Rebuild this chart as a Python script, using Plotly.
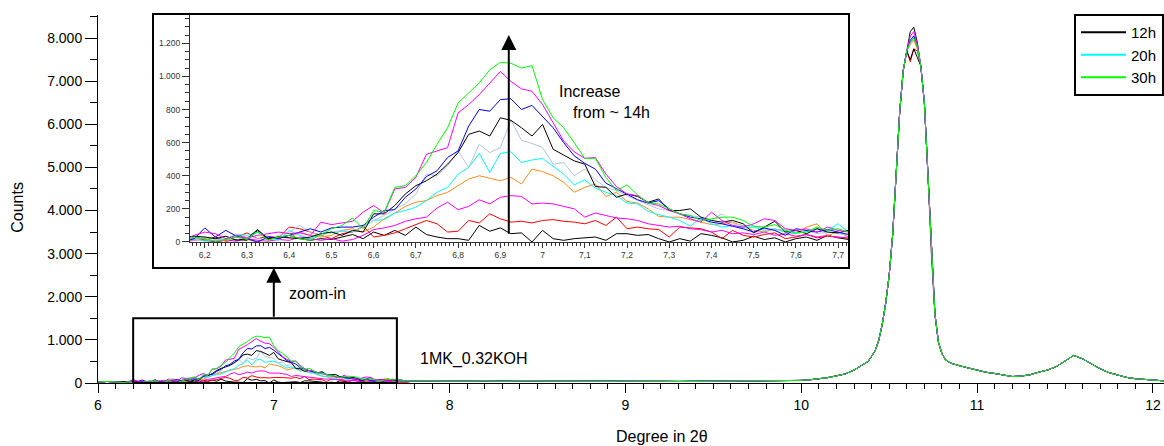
import numpy as np
import plotly.graph_objects as go

# ---- samples (reaction time) and line colours ----
hours = ["12h", "14h", "16h", "18h", "20h", "22h", "24h", "26h", "28h", "30h"]
colors = ["#000000", "#ff0000", "#ff00ff", "#ff8c1a", "#00ffff",
          "#b0c4de", "#000000", "#0000ff", "#ff00ff", "#00ff00"]
legend_shown = ["12h", "20h", "30h"]

# ---- 2θ positions ----
two_theta_head = [6.0, 6.05, 6.1]
# low-angle reflection scanned with a 0.025° step (6.15 ... 7.75)
two_theta_zoom = np.round(np.arange(6.15, 7.7501, 0.025), 3)
two_theta_tail_a = [7.8, 7.9, 8.0, 8.1, 8.2, 8.3, 8.4, 8.5, 8.6, 8.7, 8.8, 8.9,
                    9.0, 9.1, 9.2, 9.3, 9.4, 9.5, 9.6, 9.7, 9.8, 9.9, 10.0, 10.05,
                    10.1, 10.15, 10.2, 10.25, 10.3, 10.35, 10.38, 10.4, 10.42,
                    10.44, 10.46, 10.48, 10.5, 10.52, 10.54, 10.56, 10.58, 10.6]
two_theta_apex = [10.62, 10.64, 10.66]
two_theta_tail_b = [10.68, 10.7, 10.72, 10.74, 10.76, 10.78, 10.8, 10.82, 10.85,
                    10.9, 10.95, 11.0, 11.05, 11.1, 11.15, 11.2, 11.25, 11.3, 11.35,
                    11.4, 11.45, 11.5, 11.55, 11.6, 11.65, 11.7, 11.75, 11.8, 11.85,
                    11.9, 11.95, 12.0, 12.06]

# ---- counts common to all samples outside the low-angle reflection ----
counts_head = [20, 35, 25]
counts_tail_a = [50, 45, 55, 45, 50, 40, 50, 45, 40, 50, 45, 40,
                 45, 35, 40, 35, 40, 45, 40, 50, 45, 55, 60, 75,
                 95, 125, 165, 210, 300, 420, 500, 620, 750,
                 980, 1350, 1850, 2500, 3450, 4900, 6300, 7250, 7700]
counts_tail_b = [7350, 6500, 4900, 3000, 1600, 950, 680, 540, 460,
                 400, 345, 300, 250, 220, 190, 150, 160, 190, 250,
                 300, 380, 500, 640, 560, 440, 330, 240, 180, 130,
                 100, 80, 60, 50]

# ---- apex of the main reflection for each sample ----
apex_12h = [8150, 8250, 7900]
apex_14h = [7450, 7750, 7700]
apex_16h = [7900, 8000, 7800]
apex_18h = [7850, 7950, 7750]
apex_20h = [7950, 8050, 7800]
apex_22h = [7900, 8000, 7800]
apex_24h = [7500, 7750, 7550]
apex_26h = [7950, 8050, 7800]
apex_28h = [8050, 8150, 7850]
apex_30h = [7900, 8000, 7800]

# ---- low-angle reflection, counts per sample on two_theta_zoom ----
zoom_12h = [25, 35, 10, 30, 5, 15, 10, 70, 15, 30, 40, 20, 10, 20, 15, 30, 45, 20, 60, 40,
            70, 40, 90, 45, 30, 20, 20, 10, 100, 65, 85, 50, 55, 0, 70, 20, 10, 20, 25, 30,
            10, 50, 50, 40, 45, 20, 0, 20, 5, 50, 40, 25, 0, 10, 35, 15, 25, 0, 20, 30,
            10, 40, 25, 15, 20]
zoom_14h = [10, 20, 10, 0, 15, 30, 55, 20, 35, 25, 90, 80, 60, 40, 20, 50, 60, 95, 30, 40,
            55, 80, 105, 130, 110, 60, 65, 130, 115, 170, 140, 120, 125, 115, 130, 135, 125, 120, 110, 130,
            100, 150, 80, 90, 80, 75, 30, 90, 85, 80, 60, 20, 70, 40, 30, 45, 55, 20, 30, 45,
            25, 35, 30, 20, 15]
zoom_16h = [0, 10, 20, 0, 10, 5, 20, 10, 5, 15, 10, 30, 20, 10, 20, 5, 15, 40, 75, 85,
            100, 125, 140, 150, 205, 240, 195, 215, 255, 230, 270, 280, 275, 230, 235, 230, 215, 200, 150, 175,
            160, 145, 140, 130, 110, 100, 90, 95, 80, 75, 60, 70, 50, 55, 45, 60, 40, 50, 35, 45,
            30, 40, 25, 30, 20]
zoom_18h = [0, 15, 10, 25, 5, 30, 15, 0, 20, 35, 25, 60, 40, 30, 40, 70, 80, 60, 90, 140,
            175, 215, 240, 250, 280, 300, 340, 380, 400, 385, 370, 390, 350, 440, 425, 400, 360, 300, 330, 350,
            275, 300, 245, 235, 200, 155, 150, 150, 135, 120, 105, 110, 120, 95, 70, 60, 80, 60, 50, 90,
            110, 40, 60, 30, 40]
zoom_20h = [10, 20, 5, 10, 20, 45, 40, 60, 30, 10, 70, 40, 20, 50, 55, 65, 60, 90, 130, 135,
            175, 190, 210, 250, 300, 330, 410, 450, 535, 420, 535, 545, 480, 495, 505, 460, 410, 345, 375, 325,
            300, 280, 235, 230, 185, 165, 150, 130, 95, 150, 110, 90, 100, 85, 90, 70, 80, 60, 50, 65,
            80, 70, 110, 60, 50]
zoom_22h = [20, 10, 30, 15, 20, 10, 40, 20, 10, 40, 60, 100, 60, 40, 60, 70, 60, 90, 130, 160,
            200, 230, 290, 410, 400, 460, 550, 450, 590, 540, 570, 735, 615, 595, 570, 470, 480, 400, 440, 375,
            330, 310, 280, 250, 225, 200, 190, 170, 160, 150, 130, 170, 110, 100, 95, 80, 70, 80, 60, 70,
            50, 60, 50, 40, 45]
zoom_24h = [30, 35, 30, 20, 35, 10, 20, 75, 20, 30, 25, 20, 30, 50, 60, 40, 70, 60, 170, 170,
            220, 290, 340, 370, 410, 470, 540, 650, 670, 640, 750, 735, 690, 640, 710, 560, 525, 490, 470, 335,
            330, 270, 290, 275, 240, 260, 190, 190, 200, 150, 130, 120, 130, 110, 55, 90, 125, 60, 70, 50,
            80, 60, 55, 70, 50]
zoom_26h = [0, 20, 85, 30, 70, 35, 20, 0, 30, 20, 40, 60, 80, 60, 85, 90, 90, 100, 150, 190,
            195, 270, 320, 395, 430, 510, 550, 700, 800, 790, 860, 865, 800, 825, 760, 690, 600, 520, 475, 440,
            355, 320, 290, 255, 235, 250, 200, 170, 150, 140, 120, 110, 95, 80, 60, 85, 70, 40, 80, 70,
            60, 75, 60, 45, 50]
zoom_28h = [10, 40, 60, 50, 20, 40, 25, 40, 50, 60, 50, 55, 40, 120, 105, 115, 125, 180, 220, 175,
            320, 330, 390, 530, 550, 570, 780, 830, 890, 960, 1030, 970, 925, 910, 830, 720, 610, 545, 505, 510,
            410, 335, 290, 280, 235, 220, 190, 170, 140, 120, 180, 130, 100, 90, 110, 140, 130, 80, 70, 80,
            60, 90, 70, 60, 50]
zoom_30h = [10, 30, 20, 5, 15, 30, 20, 60, 10, 30, 40, 20, 10, 45, 80, 100, 145, 80, 190, 180,
            330, 340, 400, 480, 590, 690, 840, 900, 960, 1040, 1085, 1080, 1050, 1065, 860, 750, 690, 600, 505, 505,
            390, 310, 345, 285, 235, 230, 200, 170, 160, 130, 140, 150, 150, 130, 95, 90, 105, 70, 55, 60,
            90, 70, 80, 60, 50]

zoom_counts = [zoom_12h, zoom_14h, zoom_16h, zoom_18h, zoom_20h,
               zoom_22h, zoom_24h, zoom_26h, zoom_28h, zoom_30h]
apex_counts = [apex_12h, apex_14h, apex_16h, apex_18h, apex_20h,
               apex_22h, apex_24h, apex_26h, apex_28h, apex_30h]

FONT = "Liberation Sans, Arial, sans-serif"

fig = go.Figure()

# full patterns (main axes)
full_x = list(two_theta_head) + list(two_theta_zoom) + two_theta_tail_a + two_theta_apex + two_theta_tail_b
for name, col, zc, ap in zip(hours, colors, zoom_counts, apex_counts):
    full_y = counts_head + zc + counts_tail_a + ap + counts_tail_b
    fig.add_trace(go.Scatter(
        x=full_x, y=full_y, mode="lines", name=name,
        line=dict(color=col, width=1),
        showlegend=False, xaxis="x", yaxis="y"))

# magnified low-angle region (inset axes)
for name, col, zc in zip(hours, colors, zoom_counts):
    fig.add_trace(go.Scatter(
        x=two_theta_zoom, y=zc, mode="lines", name=name,
        line=dict(color=col, width=1),
        showlegend=False, xaxis="x2", yaxis="y2"))

# legend keys (thicker line swatches)
for name, col in zip(hours, colors):
    if name in legend_shown:
        fig.add_trace(go.Scatter(
            x=[None], y=[None], mode="lines", name=name,
            line=dict(color=col, width=2), showlegend=True,
            xaxis="x", yaxis="y"))

axis_font = dict(family=FONT, size=14, color="#000000")
inset_font = dict(family=FONT, size=8.5, color="#333333")

fig.update_layout(
    width=1164, height=446,
    margin=dict(l=98, r=0, t=15, b=63),
    paper_bgcolor="white", plot_bgcolor="white",
    separators=",.",
    font=dict(family=FONT, size=14, color="#000000"),
    xaxis=dict(
        range=[6, 12.063], tick0=6, dtick=1, ticks="outside", ticklen=9,
        tickwidth=1, tickcolor="#000000",
        minor=dict(dtick=0.1, ticks="outside", ticklen=5, tickcolor="#000000"),
        showline=True, linecolor="#000000", linewidth=1,
        showgrid=False, zeroline=False, tickfont=axis_font),
    yaxis=dict(
        range=[0, 8535], tick0=0, dtick=1000, ticks="outside", ticklen=12,
        tickwidth=1, tickcolor="#000000", tickformat=",d",
        minor=dict(dtick=500, ticks="outside", ticklen=7, tickcolor="#000000"),
        showline=True, linecolor="#000000", linewidth=1,
        showgrid=False, zeroline=False, tickfont=axis_font),
    xaxis2=dict(
        domain=[0.0863, 0.7054], anchor="y2",
        range=[6.165, 7.728], tick0=6.2, dtick=0.1, ticks="outside", ticklen=5,
        tickwidth=1, tickcolor="#333333",
        minor=dict(dtick=0.01, ticks="outside", ticklen=3, tickcolor="#333333"),
        showline=True, linecolor="#333333", linewidth=1,
        showgrid=False, zeroline=False, tickfont=inset_font),
    yaxis2=dict(
        domain=[0.3832, 1.0], anchor="x2",
        range=[0, 1371], tick0=0, dtick=200, ticks="outside", ticklen=7,
        tickwidth=1, tickcolor="#333333", tickformat=",d",
        minor=dict(dtick=50, ticks="outside", ticklen=4, tickcolor="#333333"),
        showline=True, linecolor="#333333", linewidth=1,
        showgrid=False, zeroline=False, tickfont=inset_font),
    legend=dict(
        x=1.0, xanchor="right", y=1.0027, yanchor="top",
        bgcolor="white", bordercolor="#000000", borderwidth=2,
        font=dict(family=FONT, size=15, color="#000000"),
        itemwidth=45, tracegroupgap=0),
    showlegend=True,
)

# inset frame and the marked region on the main pattern
fig.add_shape(type="rect", xref="paper", yref="paper",
              x0=0.0516, x1=0.7045, y0=0.3125, y1=1.0027,
              line=dict(color="#000000", width=2), layer="above")
fig.add_shape(type="rect", xref="x", yref="y",
              x0=6.2, x1=7.7, y0=0, y1=1500,
              line=dict(color="#000000", width=2), layer="above")

# arrows
fig.add_annotation(x=7.0, y=2674, ax=7.0, ay=1500, xref="x", yref="y",
                   axref="x", ayref="y", text="", showarrow=True,
                   arrowhead=2, arrowsize=1.5, arrowwidth=2, arrowcolor="#000000")
fig.add_annotation(x=6.92, y=1250, ax=6.92, ay=40, xref="x2", yref="y2",
                   axref="x2", ayref="y2", text="", showarrow=True,
                   arrowhead=2, arrowsize=1.5, arrowwidth=2, arrowcolor="#000000")

# text labels
txt = dict(family=FONT, size=16, color="#000000")
fig.add_annotation(x=7.076, y=2070, xref="x", yref="y", text="zoom-in",
                   showarrow=False, xanchor="left", yanchor="middle", font=txt)
fig.add_annotation(x=7.822, y=558, xref="x", yref="y", text="1MK_0.32KOH",
                   showarrow=False, xanchor="left", yanchor="middle", font=txt)
fig.add_annotation(x=7.034, y=906, xref="x2", yref="y2", text="Increase",
                   showarrow=False, xanchor="left", yanchor="middle", font=txt)
fig.add_annotation(x=7.067, y=785, xref="x2", yref="y2", text="from ~ 14h",
                   showarrow=False, xanchor="left", yanchor="middle", font=txt)
fig.add_annotation(x=-0.0763, y=0.478, xref="paper", yref="paper", text="Counts",
                   textangle=-90, showarrow=False, xanchor="center", yanchor="middle",
                   font=txt)
fig.add_annotation(x=0.529, y=-0.1467, xref="paper", yref="paper", text="Degree in 2θ",
                   showarrow=False, xanchor="center", yanchor="middle", font=txt)

fig.write_html("out.html")
